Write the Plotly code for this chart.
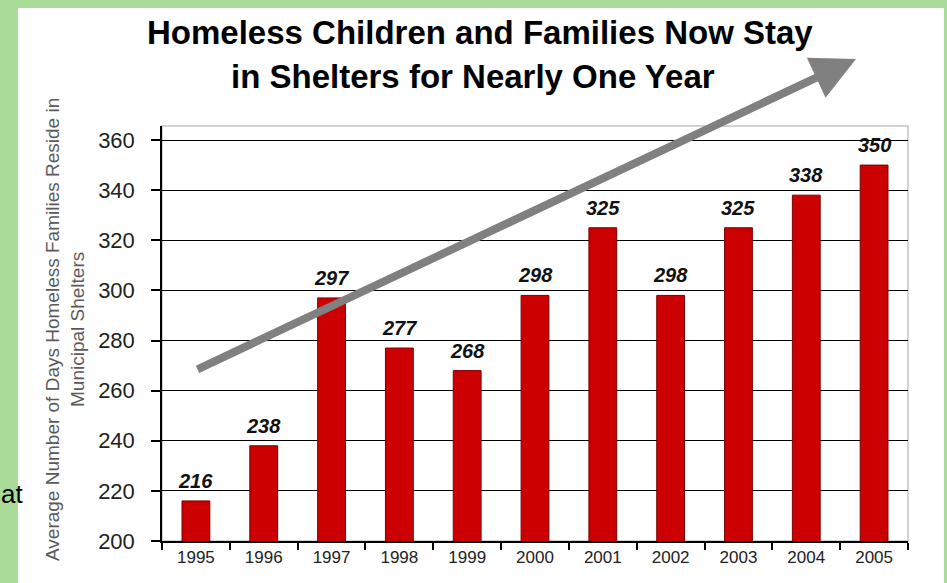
import plotly.graph_objects as go

# Average length of shelter stay for homeless families, by fiscal year
years = ["1995", "1996", "1997", "1998", "1999", "2000",
         "2001", "2002", "2003", "2004", "2005"]
days = [216, 238, 297, 277, 268, 298, 325, 298, 325, 338, 350]
y_ticks = [200, 220, 240, 260, 280, 300, 320, 340, 360]

W, H = 947, 583
L, R, T, B = 162, 39, 126, 42
PW, PH = W - L - R, H - T - B


def px_x(px):
    return (px - L) / PW


def px_y(py):
    return (H - B - py) / PH


FONT = "Liberation Sans, Arial, sans-serif"

fig = go.Figure()
fig.add_trace(go.Bar(
    x=years, y=days,
    width=0.41,
    marker=dict(color="#CC0000", line=dict(color="#7a0000", width=1)),
    hoverinfo="x+y",
))

annotations = []
# value labels above each bar (category index used as x position)
for i, v in enumerate(days):
    annotations.append(dict(
        x=i, y=v, xref="x", yref="y", text=f"<b><i>{v}</i></b>",
        showarrow=False, xanchor="center", yanchor="bottom", yshift=7,
        font=dict(family=FONT, size=20, color="#111111"),
    ))

# two-line title
annotations.append(dict(
    x=px_x(480), y=px_y(33), xref="paper", yref="paper",
    xanchor="center", yanchor="middle",
    text="<b>Homeless Children and Families Now Stay</b>", showarrow=False,
    font=dict(family=FONT, size=33, color="#000000"),
))
annotations.append(dict(
    x=px_x(473), y=px_y(77), xref="paper", yref="paper",
    xanchor="center", yanchor="middle",
    text="<b>in Shelters for Nearly One Year</b>", showarrow=False,
    font=dict(family=FONT, size=33, color="#000000"),
))

# vertical axis title
annotations.append(dict(
    x=px_x(65), y=px_y(330), xref="paper", yref="paper",
    xanchor="center", yanchor="middle",
    text="Average Number of Days Homeless Families Reside in<br>Municipal Shelters",
    textangle=-90, showarrow=False,
    font=dict(family=FONT, size=19, color="#5a5a5a"),
))

# trend arrow
annotations.append(dict(
    x=px_x(856), y=px_y(59), xref="paper", yref="paper",
    ax=196 - 856, ay=370 - 59, axref="pixel", ayref="pixel",
    text="", showarrow=True, arrowhead=2, arrowsize=1.1,
    arrowwidth=8, arrowcolor="#808080", standoff=0,
))

# text fragment at the left edge
annotations.append(dict(
    x=px_x(0), y=px_y(494), xref="paper", yref="paper",
    text="at", showarrow=False, xanchor="left", yanchor="middle",
    borderpad=0,
    font=dict(family=FONT, size=26, color="#000000"),
))

shapes = [
    # white panel
    dict(type="rect", xref="paper", yref="paper",
         x0=px_x(18), x1=px_x(944), y0=px_y(600), y1=px_y(8),
         fillcolor="#ffffff", line=dict(width=0), layer="below"),
    # light plot-area frame
    dict(type="rect", xref="paper", yref="paper",
         x0=0, x1=1, y0=0, y1=1,
         fillcolor="rgba(0,0,0,0)", line=dict(color="#c4c4c4", width=1.5),
         layer="below"),
]

fig.update_layout(
    width=W, height=H,
    margin=dict(l=L, r=R, t=T, b=B, pad=0),
    paper_bgcolor="#a8dc98",
    plot_bgcolor="#ffffff",
    showlegend=False,
    annotations=annotations,
    shapes=shapes,
    xaxis=dict(
        type="category", tickson="boundaries",
        ticks="outside", ticklen=7, tickcolor="#000000", tickwidth=1.5,
        showline=True, linecolor="#000000", linewidth=1.5,
        showgrid=False,
        tickfont=dict(family=FONT, size=17, color="#222222"),
        ticklabelstandoff=0,
        range=[-0.5, 10.5],
    ),
    yaxis=dict(
        range=[200, 365.6],
        tickvals=y_ticks,
        ticks="outside", ticklen=9, tickcolor="#000000", tickwidth=1.5,
        showline=True, linecolor="#000000", linewidth=1.5,
        showgrid=True, gridcolor="#000000", gridwidth=1.2,
        zeroline=False,
        tickfont=dict(family=FONT, size=22, color="#222222"),
        ticklabelstandoff=12,
    ),
)

fig.write_html("out.html")
